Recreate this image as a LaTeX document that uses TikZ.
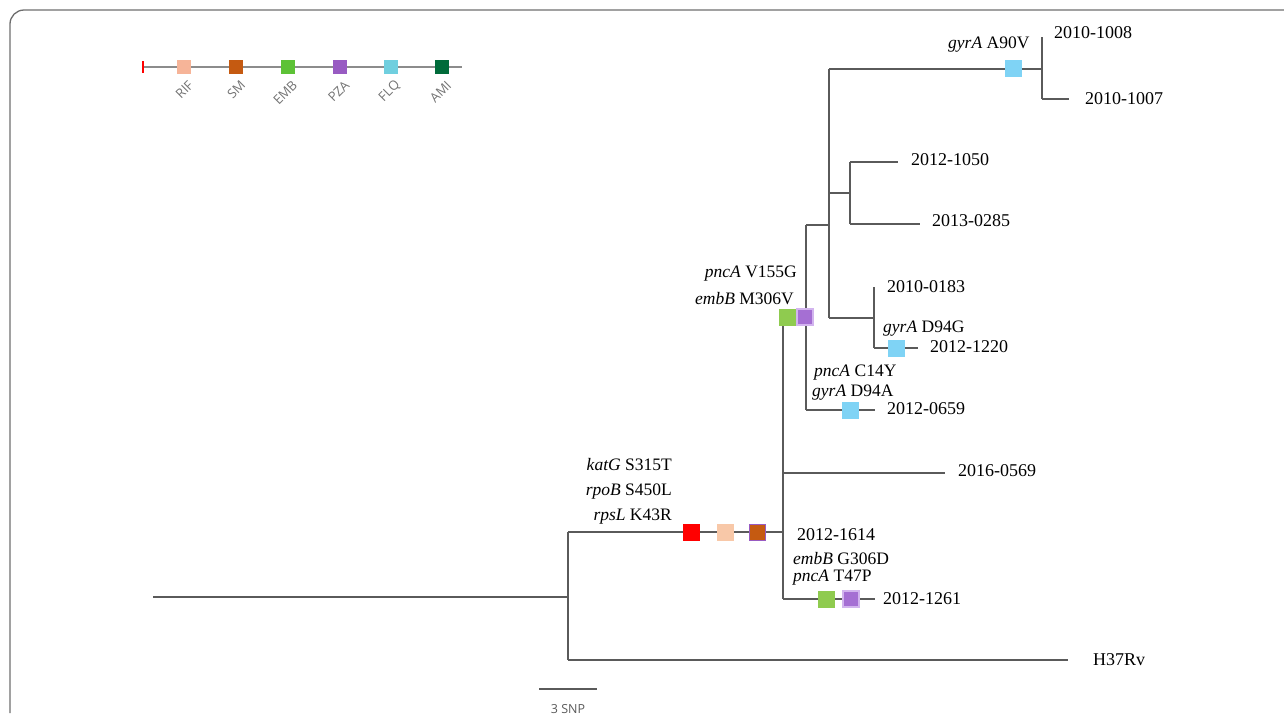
\documentclass[tikz,border=0pt]{standalone}
\usepackage{fontspec}
\setmainfont{Liberation Serif}
\newfontfamily\legfont{Open Sans}
\definecolor{linec}{HTML}{5A5A5A}
\definecolor{framec}{HTML}{6E6E6E}
\definecolor{cred}{HTML}{FF0000}
\definecolor{cpeach}{HTML}{F8C8A8}
\definecolor{cbrown}{HTML}{C55A11}
\definecolor{cgreen}{HTML}{8FCB4F}
\definecolor{cpurple}{HTML}{A56FD3}
\definecolor{cpurpleb}{HTML}{D2B4EE}
\definecolor{ccyan}{HTML}{7FD3F5}
\definecolor{lgpeach}{HTML}{F6B498}
\definecolor{lgbrown}{HTML}{C55A11}
\definecolor{lggreen}{HTML}{5DC236}
\definecolor{lgpurple}{HTML}{985BC2}
\definecolor{lgcyan}{HTML}{70CFDF}
\definecolor{lgdark}{HTML}{006B3A}
\definecolor{lgline}{HTML}{8C8C8C}
\definecolor{lgtext}{HTML}{737373}
\begin{document}
\begin{tikzpicture}[x=1pt,y=-1pt,
  br/.style={draw=linec, line width=1.6pt},
  sq/.style={minimum size=17pt, inner sep=0pt, draw=none},
  lsq/.style={minimum size=14pt, inner sep=0pt, draw=none},
  leaf/.style={anchor=west, inner sep=0pt, font=\fontsize{18}{20}\selectfont},
  mutl/.style={inner sep=0pt, font=\fontsize{17.5}{20}\selectfont},
  legl/.style={inner sep=0pt, rotate=45, anchor=east, text=lgtext, font=\legfont\fontsize{13}{14}\selectfont}]
\useasboundingbox (0,0) rectangle (1284,713);
% frame
\draw[draw=framec, line width=1.3pt, rounded corners=14pt] (10,713) -- (10,10) -- (1284,10);

% legend
\coordinate (lgA) at (143,67);
\coordinate (lgB) at (462,67);
\draw[draw=lgline, line width=1.5pt] (lgA) -- (lgB);
\draw[draw=cred, line width=1.5pt] (143,61) -- (143,73);
\node[lsq, fill=lgpeach] (lrif) at (184,67) {};
\node[lsq, fill=lgbrown] (lsm) at (236,67) {};
\node[lsq, fill=lggreen] (lemb) at (288,67) {};
\node[lsq, fill=lgpurple] (lpza) at (340,67) {};
\node[lsq, fill=lgcyan] (lflq) at (391,67) {};
\node[lsq, fill=lgdark] (lami) at (442,67) {};
\node[legl] (trif) at (191,83) {RIF};
\node[legl] (tsm) at (243,83) {SM};
\node[legl] (temb) at (295,83) {EMB};
\node[legl] (tpza) at (347,83) {PZA};
\node[legl] (tflq) at (398,83) {FLQ};
\node[legl] (tami) at (449,83) {AMI};

% tree coordinates
\coordinate (root) at (153,597);
\coordinate (n1) at (568,597);
\coordinate (n1t) at (568,532);
\coordinate (n1b) at (568,660);
\coordinate (h37) at (1068,660);
\coordinate (n2) at (783,532);
\coordinate (n2t) at (783,317);
\coordinate (n2b) at (783,599);
\coordinate (n2m) at (783,473);
\coordinate (e0569) at (945,473);
\coordinate (e1261) at (875,599);
\coordinate (n3) at (806,317);
\coordinate (n3t) at (806,225);
\coordinate (n3b) at (806,410);
\coordinate (e0659) at (875,410);
\coordinate (n4) at (829,225);
\coordinate (n4t) at (829,69);
\coordinate (n4b) at (829,318);
\coordinate (n4m) at (829,193);
\coordinate (n7) at (1042,69);
\coordinate (n7t) at (1042,37);
\coordinate (n7b) at (1042,99);
\coordinate (e1007) at (1069,99);
\coordinate (n5) at (850,193);
\coordinate (n5t) at (850,162);
\coordinate (n5b) at (850,224);
\coordinate (e1050) at (898,162);
\coordinate (e0285) at (920,224);
\coordinate (n6) at (874,318);
\coordinate (n6t) at (874,287);
\coordinate (n6b) at (874,348);
\coordinate (e1220) at (918,348);

% branches
\draw[br] (root) -- (n1);
\draw[br] (n1t) -- (n1b);
\draw[br] (n1b) -- (h37);
\draw[br] (n1t) -- (n2);
\draw[br] (n2t) -- (n2b);
\draw[br] (n2m) -- (e0569);
\draw[br] (n2b) -- (e1261);
\draw[br] (n2t) -- (n3);
\draw[br] (n3t) -- (n3b);
\draw[br] (n3b) -- (e0659);
\draw[br] (n3t) -- (n4);
\draw[br] (n4t) -- (n4b);
\draw[br] (n4t) -- (n7);
\draw[br] (n7t) -- (n7b);
\draw[br] (n7b) -- (e1007);
\draw[br] (n4m) -- (n5);
\draw[br] (n5t) -- (n5b);
\draw[br] (n5t) -- (e1050);
\draw[br] (n5b) -- (e0285);
\draw[br] (n4b) -- (n6);
\draw[br] (n6t) -- (n6b);
\draw[br] (n6b) -- (e1220);

% mutation squares
\node[sq, fill=cred] (mkat) at (691,532) {};
\node[sq, fill=cpeach] (mrpo) at (725,532) {};
\node[sq, fill=cbrown, draw=lgpurple, line width=0.8pt, minimum size=16pt] (mrps) at (757,532) {};
\node[sq, fill=cgreen] (memb1) at (787,317) {};
\node[sq, fill=cpurple, draw=cpurpleb, line width=1.2pt, minimum size=16pt] (mpnc1) at (805,317) {};
\node[sq, fill=ccyan] (mgyr1) at (1013,68) {};
\node[sq, fill=ccyan] (mgyr2) at (896,348) {};
\node[sq, fill=ccyan] (mgyr3) at (850,410) {};
\node[sq, fill=cgreen] (memb2) at (826,599) {};
\node[sq, fill=cpurple, draw=cpurpleb, line width=1.2pt, minimum size=16pt] (mpnc2) at (851,599) {};

% leaf labels
\node[leaf] (l1008) at (1054,33) {2010-1008};
\node[leaf] (l1007) at (1085,99) {2010-1007};
\node[leaf] (l1050) at (911,160) {2012-1050};
\node[leaf] (l0285) at (932,221) {2013-0285};
\node[leaf] (l0183) at (887,287) {2010-0183};
\node[leaf] (l1220) at (930,347) {2012-1220};
\node[leaf] (l0659) at (887,409) {2012-0659};
\node[leaf] (l0569) at (958,471) {2016-0569};
\node[leaf] (l1614) at (797,535) {2012-1614};
\node[leaf] (l1261) at (883,599) {2012-1261};
\node[leaf] (lh37) at (1093,660) {H37Rv};

% mutation labels
\node[mutl, anchor=west] (tgA90) at (948,45) {\textit{gyrA} A90V};
\node[mutl, anchor=east] (tpV155) at (797,274) {\textit{pncA} V155G};
\node[mutl, anchor=east] (teM306) at (794,299) {\textit{embB} M306V};
\node[mutl, anchor=west] (tgD94G) at (883,329) {\textit{gyrA} D94G};
\node[mutl, anchor=west] (tpC14) at (814,373) {\textit{pncA} C14Y};
\node[mutl, anchor=west] (tgD94A) at (812,393) {\textit{gyrA} D94A};
\node[mutl, anchor=east] (tkat) at (672,465) {\textit{katG} S315T};
\node[mutl, anchor=east] (trpo) at (672,492) {\textit{rpoB} S450L};
\node[mutl, anchor=east] (trps) at (672,517) {\textit{rpsL} K43R};
\node[mutl, anchor=west] (teG306) at (793,559) {\textit{embB} G306D};
\node[mutl, anchor=west] (tpT47) at (793,578) {\textit{pncA} T47P};

% scale bar
\coordinate (sbA) at (539,689);
\coordinate (sbB) at (597,689);
\draw[draw=linec, line width=1.5pt] (sbA) -- (sbB);
\node[anchor=north, inner sep=0pt, text=linec, font=\legfont\fontsize{12.5}{14}\selectfont] (sbl) at (568,704) {3 SNP};
\end{tikzpicture}
\end{document}
